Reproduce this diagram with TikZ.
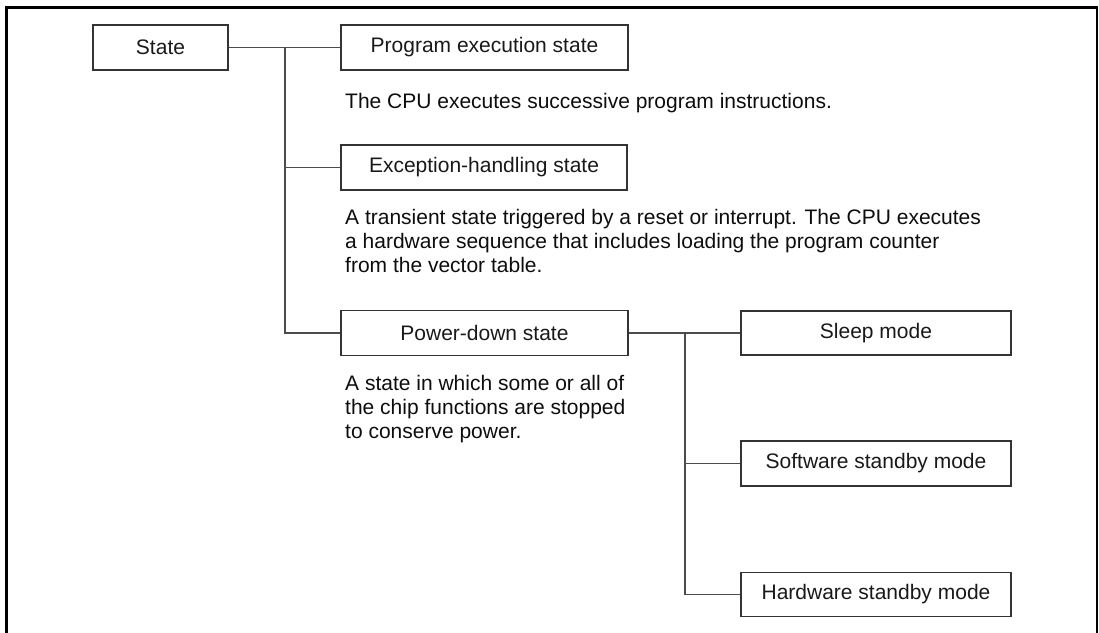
\documentclass[tikz,border=0pt]{standalone}
\usepackage{fontspec}
\setmainfont{Liberation Sans}
\begin{document}
\begin{tikzpicture}[x=1pt,y=-1pt,
  font=\fontsize{21}{24}\selectfont,
  statebox/.style={draw=black!80, line width=1.2pt, rectangle, inner sep=0pt, minimum height=45pt, text=black!90},
  conn/.style={draw=black!70, line width=1.2pt},
  desc/.style={anchor=base west, align=left, inner sep=0pt, text=black!95}]
\useasboundingbox (0,0) rectangle (1099,632);
\clip (0,0) rectangle (1099,632);
\draw[line width=2.6pt] (6.5,650) -- (6.5,7.5) -- (1097,7.5) -- (1097,650);

\node[statebox, minimum width=135pt] (st) at (160.5,47.5) {State};
\node[statebox, minimum width=287pt] (pe) at (484.5,47.5) {Program execution state};
\node[statebox, minimum width=286pt] (ex) at (484,167.5) {Exception-handling state};
\node[statebox, minimum width=287pt] (pd) at (484.5,333) {Power-down state};
\node[statebox, minimum width=270pt, minimum height=44pt] (sl) at (876,333) {Sleep mode};
\node[statebox, minimum width=270pt] (sw) at (876,463.5) {Software standby mode};
\node[statebox, minimum width=270pt, minimum height=44pt] (hw) at (876,594.5) {Hardware standby mode};

\coordinate (j1) at (285,47.5);
\coordinate (j2) at (685,333);
\draw[conn] (st.east) -- (pe.west);
\draw[conn] (j1) |- (ex.west);
\draw[conn] (j1) |- (pd.west);
\draw[conn] (pd.east) -- (sl.west);
\draw[conn] (j2) |- (sw.west);
\draw[conn] (j2) |- (hw.west);

\node[desc] (d1) at (345,108) {The CPU executes successive program instructions.};
\node[desc] (d2) at (345,272) {A transient state triggered by a reset or interrupt. The CPU executes\\a hardware sequence that includes loading the program counter\\from the vector table.};
\node[desc] (d3) at (345,438) {A state in which some or all of\\the chip functions are stopped\\to conserve power.};
\end{tikzpicture}
\end{document}
